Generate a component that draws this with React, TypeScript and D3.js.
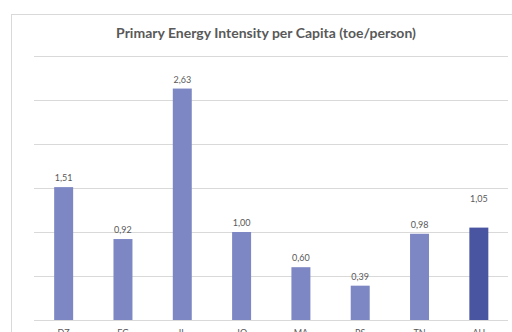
import React from "react";
import * as d3 from "d3";

const categories = ["DZ", "EG", "IL", "JO", "MA", "PS", "TN", "AU"];
const values = [1.51, 0.92, 2.63, 1.0, 0.6, 0.39, 0.98, 1.05];
const highlight = ["AU"];
const yTicks = [0, 0.5, 1, 1.5, 2, 2.5, 3];
const title = "Primary Energy Intensity per Capita (toe/person)";

export default function App() {
  const W = 512, H = 332;
  const x = d3.scaleBand<string>().domain(categories).range([34, 508.5]).paddingInner(0.68).paddingOuter(0.34);
  const y = d3.scaleLinear().domain([0, 3]).range([320, 56]);
  const fmt = (v: number) => v.toFixed(2).replace(".", ",");
  const font = "Lato, 'Open Sans', sans-serif";
  return (
    <svg width={W} height={H} style={{ position: "absolute", left: 0, top: 0, background: "#fff" }}>
      <rect x={11.5} y={14.5} width={W + 10} height={H + 10} fill="#fff" stroke="#D9D9D9" strokeWidth={1} />
      <text x={266} y={38} textAnchor="middle" fontFamily={font} fontWeight="bold" fontSize={14} fill="#595959">
        {title}
      </text>
      {yTicks.map((t) => (
        <line key={t} x1={34} x2={508} y1={Math.round(y(t)) + 0.5} y2={Math.round(y(t)) + 0.5} stroke="#D9D9D9" strokeWidth={1} />
      ))}
      {categories.map((c, i) => {
        const v = values[i];
        const bx = x(c)!;
        const bw = x.bandwidth();
        const hl = highlight.includes(c);
        return (
          <g key={c}>
            <rect x={bx} y={y(v)} width={bw} height={y(0) - y(v)} fill={hl ? "#4A55A2" : "#7D87C3"} />
            <text x={bx + bw / 2} y={y(v) - (hl ? 26 : 6)} textAnchor="middle" fontFamily={font} fontSize={9} fill="#595959">
              {fmt(v)}
            </text>
            <text x={bx + bw / 2} y={336} textAnchor="middle" fontFamily={font} fontSize={9} fill="#595959">
              {c}
            </text>
          </g>
        );
      })}
    </svg>
  );
}
